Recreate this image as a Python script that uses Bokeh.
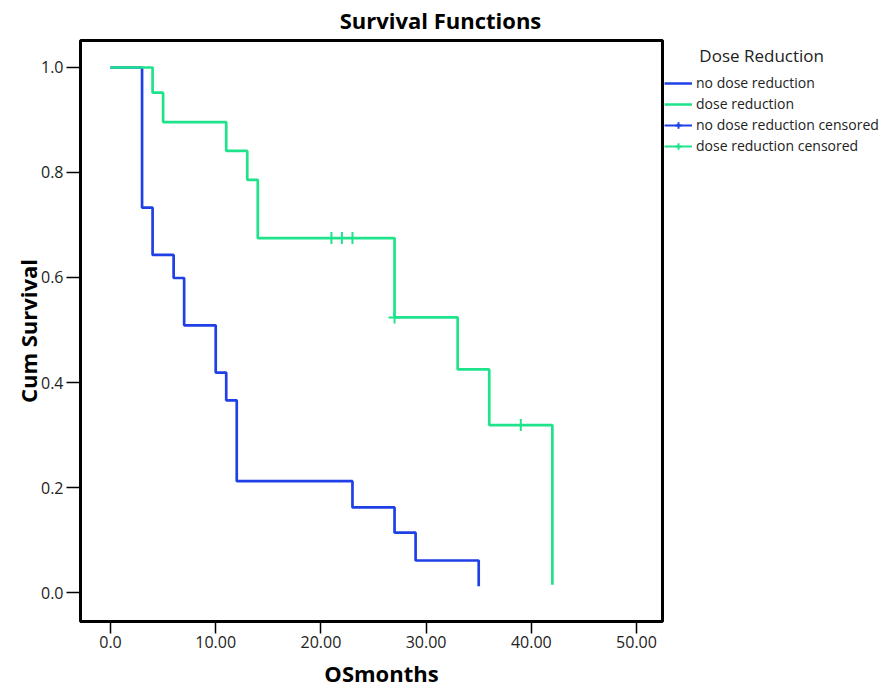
from bokeh.plotting import figure
from bokeh.layouts import column, row
from bokeh.models import Range1d, FixedTicker, Legend, LegendItem, Label
from bokeh.embed import file_html
from bokeh.resources import INLINE

# ---- data ----
no_red_t = [0, 3, 4, 6, 7, 10, 11, 12, 23, 27, 29, 35]
no_red_s = [1.0, 0.733, 0.643, 0.599, 0.509, 0.419, 0.366, 0.212, 0.162, 0.114, 0.061, 0.012]
red_t = [0, 4, 5, 11, 13, 14, 27, 33, 36, 42]
red_s = [1.0, 0.952, 0.896, 0.841, 0.786, 0.675, 0.524, 0.425, 0.319, 0.015]
no_red_cens_t = []
no_red_cens_s = []
red_cens_t = [21, 22, 23, 27, 39]
red_cens_s = [0.675, 0.675, 0.675, 0.524, 0.319]

x_ticks = [0, 10, 20, 30, 40, 50]
x_tick_labels = ["0.0", "10.00", "20.00", "30.00", "40.00", "50.00"]
y_ticks = [0.0, 0.2, 0.4, 0.6, 0.8, 1.0]
y_tick_labels = ["0.0", "0.2", "0.4", "0.6", "0.8", "1.0"]

X_LO, X_HI = -2.852, 52.47
Y_LO, Y_HI = -0.0552, 1.0514

BLUE = "#1F40E6"
GREEN = "#1EE38A"
FONT = "Open Sans"
NAN = float("nan")


def blank(w, h, top=0):
    f = figure(width=w, height=h, output_backend="svg", toolbar_location=None,
               x_range=Range1d(0, 1), y_range=Range1d(0, 1),
               min_border_left=0, min_border_right=0,
               min_border_top=top, min_border_bottom=0)
    f.axis.visible = False
    f.grid.visible = False
    f.outline_line_color = None
    return f


# ---- title strip ----
title_fig = blank(891, 38)
title_fig.add_layout(Label(x=440, y=19, x_units="screen", y_units="screen",
                           text="Survival Functions", text_font=FONT,
                           text_font_size="22px", text_font_style="bold",
                           text_align="center", text_baseline="middle",
                           text_color="black"))

# ---- main plot ----
p = figure(width=664, height=619,
           x_range=Range1d(X_LO, X_HI), y_range=Range1d(Y_LO, Y_HI),
           output_backend="svg", toolbar_location=None,
           min_border_left=80, min_border_right=2,
           min_border_top=2, min_border_bottom=36)
p.xgrid.visible = False
p.ygrid.visible = False
p.outline_line_color = "black"
p.outline_line_width = 3
p.outline_line_alpha = 1.0

for ax in (p.xaxis[0], p.yaxis[0]):
    ax.axis_line_color = None
    ax.major_tick_in = 0
    ax.minor_tick_out = 0
    ax.minor_tick_in = 0
    ax.major_tick_line_width = 1.5
    ax.major_tick_line_color = "black"
    ax.major_label_text_font = FONT
    ax.major_label_text_font_size = "16px"
    ax.major_label_text_color = "#222222"

p.xaxis.ticker = FixedTicker(ticks=x_ticks)
p.xaxis.major_label_overrides = {t: l for t, l in zip(x_ticks, x_tick_labels)}
p.yaxis.ticker = FixedTicker(ticks=y_ticks)
p.yaxis.major_label_overrides = {t: l for t, l in zip(y_ticks, y_tick_labels)}
p.xaxis.major_tick_out = 12
p.yaxis.major_tick_out = 14
p.xaxis.major_label_standoff = 2
p.yaxis.major_label_standoff = 3
p.yaxis.axis_label = "Cum Survival"
p.yaxis.axis_label_text_font = FONT
p.yaxis.axis_label_text_font_size = "22px"
p.yaxis.axis_label_text_font_style = "bold"
p.yaxis.axis_label_text_color = "black"
p.yaxis.axis_label_standoff = -5

p.step(no_red_t, no_red_s, mode="after", line_color=BLUE, line_width=2.7)
p.step(red_t, red_s, mode="after", line_color=GREEN, line_width=2.7)
p.scatter(x=no_red_cens_t, y=no_red_cens_s, marker="cross", size=12,
          line_color=BLUE, line_width=2)
p.scatter(x=red_cens_t, y=red_cens_s, marker="cross", size=12,
          line_color=GREEN, line_width=2)

# ---- x axis title strip ----
xlab_fig = blank(664, 29)
xlab_fig.add_layout(Label(x=301, y=14, x_units="screen", y_units="screen",
                          text="OSmonths", text_font=FONT, text_font_size="22px",
                          text_font_style="bold", text_align="center",
                          text_baseline="middle", text_color="black"))

# ---- legend panel ----
leg_fig = blank(227, 648, top=6)
lb = leg_fig.line([NAN], [NAN], line_color=BLUE, line_width=2.5)
lg = leg_fig.line([NAN], [NAN], line_color=GREEN, line_width=2.5)
lbc = leg_fig.line([NAN], [NAN], line_color=BLUE, line_width=2)
lbx = leg_fig.scatter([NAN], [NAN], marker="cross", line_color=BLUE, line_width=2)
lgc = leg_fig.line([NAN], [NAN], line_color=GREEN, line_width=2)
lgx = leg_fig.scatter([NAN], [NAN], marker="cross", line_color=GREEN, line_width=2)

legend = Legend(items=[
    LegendItem(label="no dose reduction", renderers=[lb]),
    LegendItem(label="dose reduction", renderers=[lg]),
    LegendItem(label="no dose reduction censored", renderers=[lbc, lbx]),
    LegendItem(label="dose reduction censored", renderers=[lgc, lgx]),
], location="top_left", border_line_color=None, background_fill_alpha=0,
    title="\u00a0" * 8 + "Dose Reduction",
    title_text_font=FONT, title_text_font_size="17px", title_text_font_style="normal",
    title_text_color="#222222", title_standoff=6,
    label_text_font=FONT, label_text_font_size="14px", label_text_color="#222222",
    glyph_width=28, glyph_height=16, label_height=16, spacing=2, padding=0,
    margin=0, label_standoff=4)
leg_fig.add_layout(legend, "center")

layout = column(title_fig, row(column(p, xlab_fig), leg_fig))

open("out.html", "w").write(file_html(layout, INLINE))
